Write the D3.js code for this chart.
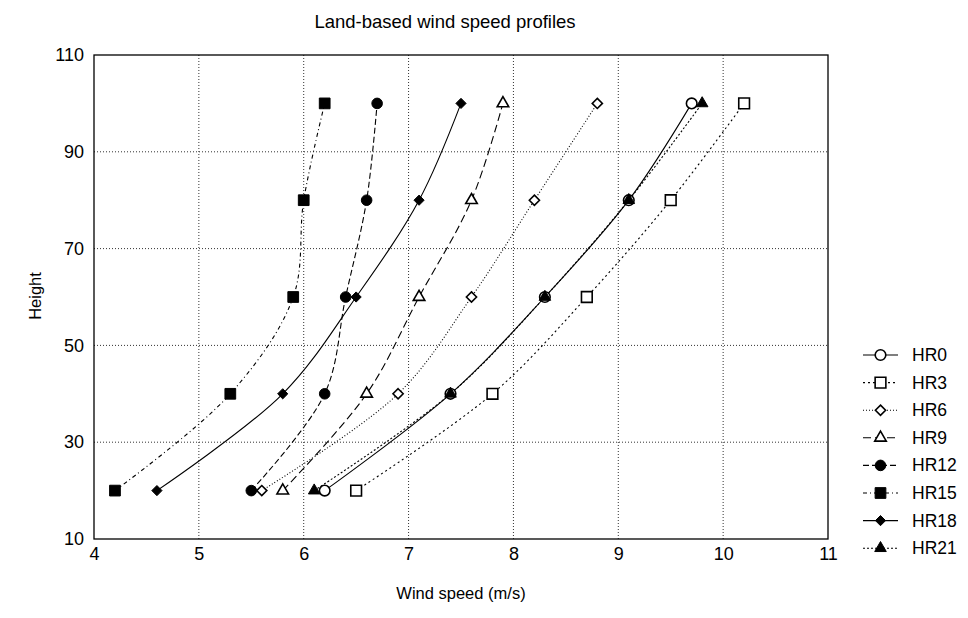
<!DOCTYPE html>
<html><head><meta charset="utf-8">
<script src="https://cdn.jsdelivr.net/npm/d3@7"></script>
<style>body{margin:0;background:#fff;}svg{display:block;font-family:"Liberation Sans",Arial,sans-serif;}</style>
</head><body>
<svg id="chart" width="968" height="618"></svg>
<script>
const heights = [20, 40, 60, 80, 100];
const seriesNames = ["HR0","HR3","HR6","HR9","HR12","HR15","HR18","HR21"];
const HR0  = [6.2, 7.4, 8.3, 9.1, 9.7];
const HR3  = [6.5, 7.8, 8.7, 9.5, 10.2];
const HR6  = [5.6, 6.9, 7.6, 8.2, 8.8];
const HR9  = [5.8, 6.6, 7.1, 7.6, 7.9];
const HR12 = [5.5, 6.2, 6.4, 6.6, 6.7];
const HR15 = [4.2, 5.3, 5.9, 6.0, 6.2];
const HR18 = [4.6, 5.8, 6.5, 7.1, 7.5];
const HR21 = [6.1, 7.4, 8.3, 9.1, 9.8];
const xTicks = [4,5,6,7,8,9,10,11];
const yTicks = [10,30,50,70,90,110];

const seriesValues = [HR0,HR3,HR6,HR9,HR12,HR15,HR18,HR21];
const styles = [
  {dash:null,      sym:"circle",   fill:"#fff"},
  {dash:"2,3",     sym:"square",   fill:"#fff"},
  {dash:"1,2",     sym:"diamond",  fill:"#fff"},
  {dash:"8,4",     sym:"triangle", fill:"#fff"},
  {dash:"6,3",     sym:"circle",   fill:"#000"},
  {dash:"4,3,1,3", sym:"square",   fill:"#000"},
  {dash:null,      sym:"diamond",  fill:"#000"},
  {dash:"2,2",     sym:"triangle", fill:"#000"}
];
const symSize = {circle:88, square:115, diamond:66, triangle:58};
const symType = {circle:d3.symbolCircle, square:d3.symbolSquare, diamond:d3.symbolDiamond2, triangle:d3.symbolTriangle};

const svg = d3.select("#chart");
const m = {l:94, r:140, t:55, b:79};
const W = 968, H = 618;
const x = d3.scaleLinear().domain([4,11]).range([m.l, W - m.r]);
const y = d3.scaleLinear().domain([10,110]).range([H - m.b, m.t]);

// grid
const g = svg.append("g");
g.selectAll(".vg").data(xTicks.slice(1,-1)).enter().append("line")
  .attr("x1",d=>x(d)).attr("x2",d=>x(d)).attr("y1",y(10)).attr("y2",y(110))
  .attr("stroke","#333").attr("stroke-width",1).attr("stroke-dasharray","1,2");
g.selectAll(".hg").data(yTicks.slice(1,-1)).enter().append("line")
  .attr("y1",d=>y(d)).attr("y2",d=>y(d)).attr("x1",x(4)).attr("x2",x(11))
  .attr("stroke","#333").attr("stroke-width",1).attr("stroke-dasharray","1,2");

// axes (labels only, no ticks)
const xAxis = d3.axisBottom(x).tickValues(xTicks).tickSize(0).tickPadding(8).tickFormat(d3.format("d"));
const yAxis = d3.axisLeft(y).tickValues(yTicks).tickSize(0).tickPadding(10).tickFormat(d3.format("d"));
const gx = svg.append("g").attr("transform",`translate(0,${y(10)})`).call(xAxis);
const gy = svg.append("g").attr("transform",`translate(${x(4)},0)`).call(yAxis);
[gx,gy].forEach(a=>{a.select(".domain").remove();a.selectAll("text").attr("font-size",18).attr("fill","#000").attr("font-family","Liberation Sans, Arial, sans-serif");});

// frame
svg.append("rect").attr("x",x(4)).attr("y",y(110)).attr("width",x(11)-x(4)).attr("height",y(10)-y(110))
  .attr("fill","none").attr("stroke","#000").attr("stroke-width",1.3);

// lines
const line = d3.line().curve(d3.curveCatmullRom.alpha(0.5)).x(d=>x(d[0])).y(d=>y(d[1]));
seriesValues.forEach((vals,i)=>{
  const pts = vals.map((v,j)=>[v,heights[j]]);
  svg.append("path").attr("d",line(pts)).attr("fill","none").attr("stroke","#000")
    .attr("stroke-width",1.1).attr("stroke-dasharray",styles[i].dash);
});
// markers
seriesValues.forEach((vals,i)=>{
  const st = styles[i];
  const sym = d3.symbol().type(symType[st.sym]).size(symSize[st.sym]);
  svg.append("g").selectAll("path").data(vals).enter().append("path")
    .attr("d",sym).attr("transform",(d,j)=>`translate(${x(d)},${y(heights[j])})`)
    .attr("fill",st.fill).attr("stroke","#000").attr("stroke-width",st.fill==="#fff"?1.6:1);
});

// titles
svg.append("text").attr("x",445).attr("y",28).attr("text-anchor","middle").attr("font-size",18.5).text("Land-based wind speed profiles");
svg.append("text").attr("x",461).attr("y",599).attr("text-anchor","middle").attr("font-size",16.5).text("Wind speed (m/s)");
svg.append("text").attr("transform","translate(41,296) rotate(-90)").attr("text-anchor","middle").attr("font-size",16.5).text("Height");

// legend
const lg = svg.append("g");
seriesNames.forEach((name,i)=>{
  const st = styles[i];
  const ly = 355 + i*27.6;
  lg.append("line").attr("x1",863).attr("x2",898).attr("y1",ly).attr("y2",ly)
    .attr("stroke","#000").attr("stroke-width",1.1).attr("stroke-dasharray",st.dash);
  lg.append("path").attr("d",d3.symbol().type(symType[st.sym]).size(symSize[st.sym])())
    .attr("transform",`translate(880.5,${ly})`).attr("fill",st.fill).attr("stroke","#000")
    .attr("stroke-width",st.fill==="#fff"?1.6:1);
  lg.append("text").attr("x",912).attr("y",ly+6).attr("font-size",17.5).text(name);
});
</script>
</body></html>
